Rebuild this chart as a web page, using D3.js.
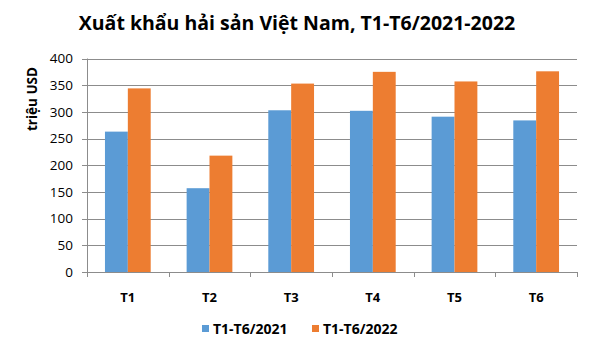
<!doctype html>
<html lang="vi">
<head>
<meta charset="utf-8">
<title>Xuất khẩu hải sản Việt Nam</title>
<script src="https://d3js.org/d3.v7.min.js"></script>
<style>
  body { margin: 0; background: #fff; }
  text { font-family: "Open Sans", "Noto Sans", sans-serif; fill: #000; }
  .grid line { stroke: #8c8c8c; stroke-width: 1; }
</style>
</head>
<body>
<svg width="593" height="354"></svg>
<script>
// data
var months = ["T1", "T2", "T3", "T4", "T5", "T6"];
var seriesNames = ["T1-T6/2021", "T1-T6/2022"];
var values2021 = [263, 157, 303, 302, 291, 284];
var values2022 = [344, 218, 353, 375, 357, 376];
var yTicks = [0, 50, 100, 150, 200, 250, 300, 350, 400];
var colors = ["#5b9bd5", "#ed7d31"];

var svg = d3.select("svg");
var plotLeft = 87, plotRight = 577, plotTop = 58.5, plotBottom = 272;

var x0 = d3.scaleBand().domain(months).range([plotLeft, plotRight])
  .paddingInner(0.44).paddingOuter(0.22);
var x1 = d3.scaleBand().domain(seriesNames).range([0, x0.bandwidth()]);
var y = d3.scaleLinear().domain([0, 400]).range([plotBottom, plotTop]);

// title
svg.append("text")
  .attr("x", 297).attr("y", 30)
  .attr("text-anchor", "middle")
  .style("font-size", "19.5px").style("font-weight", "bold")
  .text("Xuất khẩu hải sản Việt Nam, T1-T6/2021-2022");

// gridlines
svg.append("g").attr("class", "grid")
  .selectAll("line").data(yTicks).enter().append("line")
  .attr("x1", plotLeft - 5).attr("x2", plotRight)
  .attr("y1", function (d) { return Math.round(y(d)) + 0.5; })
  .attr("y2", function (d) { return Math.round(y(d)) + 0.5; });

// y axis line
svg.append("line")
  .attr("x1", plotLeft + 0.5).attr("x2", plotLeft + 0.5)
  .attr("y1", plotTop).attr("y2", plotBottom)
  .attr("stroke", "#8c8c8c");

// y labels
svg.append("g").selectAll("text").data(yTicks).enter().append("text")
  .attr("x", plotLeft - 14).attr("y", function (d) { return y(d); })
  .attr("dy", "0.35em")
  .attr("text-anchor", "end")
  .style("font-size", "13.5px")
  .text(function (d) { return d; });

// y title
svg.append("text")
  .attr("transform", "translate(37,99) rotate(-90)")
  .attr("text-anchor", "middle")
  .style("font-size", "13.5px").style("font-weight", "bold")
  .text("triệu USD");

// x ticks at band edges
var edges = months.map(function (m) { return x0(m) - x0.step() * 0.22; }).concat([plotRight]);
svg.append("g").selectAll("line").data(edges).enter().append("line")
  .attr("x1", function (d) { return Math.round(d) + 0.5; })
  .attr("x2", function (d) { return Math.round(d) + 0.5; })
  .attr("y1", plotBottom).attr("y2", plotBottom + 5)
  .attr("stroke", "#8c8c8c");

// bars
var rows = months.map(function (m, i) {
  return { month: m, vals: [values2021[i], values2022[i]] };
});
var groups = svg.append("g").selectAll("g").data(rows).enter().append("g")
  .attr("transform", function (d) { return "translate(" + x0(d.month) + ",0)"; });
groups.selectAll("rect")
  .data(function (d) { return d.vals.map(function (v, j) { return { s: seriesNames[j], v: v, j: j }; }); })
  .enter().append("rect")
  .attr("x", function (d) { return x1(d.s); })
  .attr("width", x1.bandwidth())
  .attr("y", function (d) { return y(d.v); })
  .attr("height", function (d) { return plotBottom - y(d.v); })
  .attr("fill", function (d) { return colors[d.j]; });

// x labels
svg.append("g").selectAll("text").data(months).enter().append("text")
  .attr("x", function (d) { return x0(d) + x0.bandwidth() / 2; })
  .attr("y", 302)
  .attr("text-anchor", "middle")
  .style("font-size", "13px").style("font-weight", "bold")
  .text(function (d) { return d; });

// legend
var legendX = [202, 312];
var lg = svg.append("g").selectAll("g").data(seriesNames).enter().append("g")
  .attr("transform", function (d, i) { return "translate(" + legendX[i] + ",325)"; });
lg.append("rect").attr("width", 7).attr("height", 7)
  .attr("fill", function (d, i) { return colors[i]; });
lg.append("text").attr("x", 11).attr("y", 8.5)
  .style("font-size", "14px").style("font-weight", "bold")
  .text(function (d) { return d; });
</script>
</body>
</html>
